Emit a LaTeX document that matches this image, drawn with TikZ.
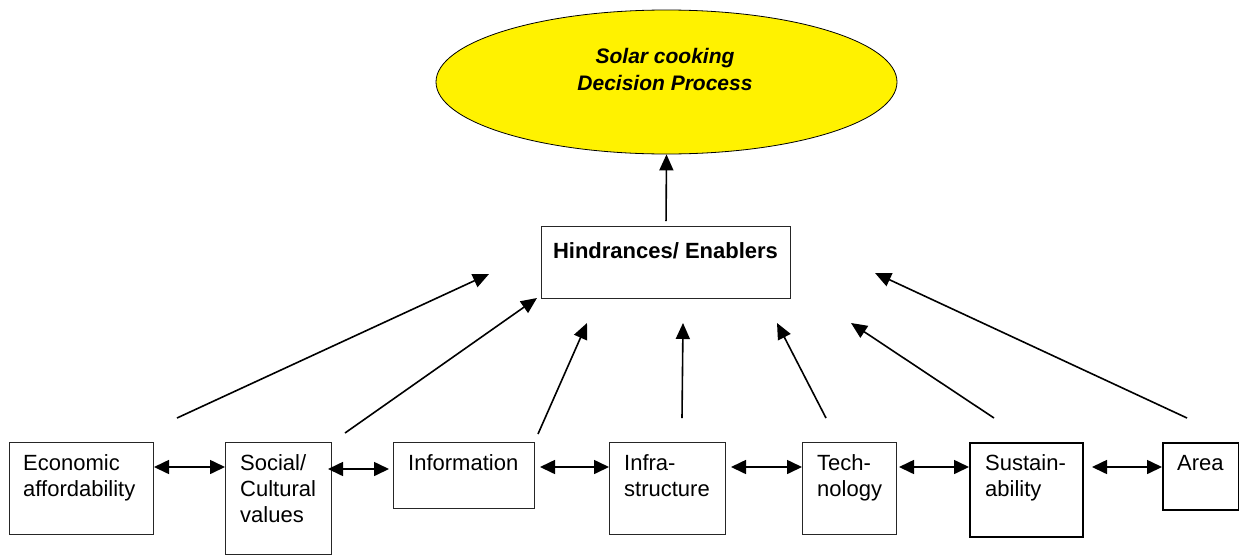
\documentclass[tikz,border=0pt]{standalone}
\usepackage{fontspec}
\setmainfont{Liberation Sans}
\usetikzlibrary{arrows.meta,shapes.geometric,calc}
\begin{document}
\begin{tikzpicture}[x=1pt,y=-1pt,
  box/.style={draw=black!85, line width=1pt, anchor=north west, inner sep=0pt},
  heavybox/.style={box, draw=black, line width=2pt},
  lbl/.style={anchor=base west, inner sep=0pt, align=left,
              font=\fontsize{22}{26}\selectfont},
  arr/.style={line width=1.6pt, -{Triangle[length=16pt,width=14pt]}},
  dbl/.style={line width=1.6pt, {Triangle[length=15pt,width=14pt]}-{Triangle[length=15pt,width=14pt]}}]
\useasboundingbox (0,0) rectangle (1239,555);

% goal
\node[ellipse, draw=black, line width=0.8pt, fill=yellow, inner sep=0pt,
      minimum width=461pt, minimum height=144pt] (goal) at (666.5,82) {};
\node[anchor=base, inner sep=0pt, align=center,
      font=\fontsize{21}{27}\selectfont\bfseries\itshape] (goaltxt) at (665,90)
      {Solar cooking\\ Decision Process};

% central box
\node[box, minimum width=249pt, minimum height=72pt] (hind) at (541,226) {};
\node[anchor=base, inner sep=0pt, font=\fontsize{22}{26}\selectfont\bfseries]
      (hindtxt) at (665.5,258) {Hindrances/ Enablers};

% factor boxes
\node[box, minimum width=144pt, minimum height=92pt]  (econ)   at (9,442)   {};
\node[box, minimum width=106pt, minimum height=112pt] (social) at (225,442) {};
\node[box, minimum width=141pt, minimum height=66pt]  (info)   at (393,442) {};
\node[box, minimum width=116pt, minimum height=92pt]  (infra)  at (609,442) {};
\node[box, minimum width=94pt,  minimum height=92pt]  (tech)   at (802,442) {};
\node[heavybox, minimum width=113pt, minimum height=94pt] (sust) at (969,442) {};
\node[heavybox, minimum width=76pt,  minimum height=67pt] (area) at (1162,442) {};

% labels: the base anchor sits on the last line
\node[lbl] (econtxt)   at ($(econ.north west)+(14,54.5)$)   {Economic\\affordability};
\node[lbl] (socialtxt) at ($(social.north west)+(15,80.5)$) {Social/\\Cultural\\values};
\node[lbl] (infotxt)   at ($(info.north west)+(15,28.5)$)   {Information};
\node[lbl] (infratxt)  at ($(infra.north west)+(15,54.5)$)  {Infra-\\structure};
\node[lbl] (techtxt)   at ($(tech.north west)+(15,54.5)$)   {Tech-\\nology};
\node[lbl] (susttxt)   at ($(sust.north west)+(16,54.5)$)   {Sustain-\\ability};
\node[lbl] (areatxt)   at ($(area.north west)+(15,28.5)$)   {Area};

% links between neighbouring factors
\coordinate (rowa) at (0,469);
\coordinate (rowb) at (0,467);
\draw[dbl] (econ.east |- rowb) -- (social.west |- rowb);
\draw[dbl, shorten <=-4pt, shorten >=4pt] (social.east |- rowa) -- (info.west |- rowa);
\draw[dbl, shorten <=5pt] (info.east |- rowb) -- (infra.west |- rowb);
\draw[dbl, shorten <=5pt] (infra.east |- rowb) -- (tech.west |- rowb);
\draw[dbl, shorten <=2pt] (tech.east |- rowb) -- (sust.west |- rowb);
\draw[dbl, shorten <=8pt] (sust.east |- rowb) -- (area.west |- rowb);

% influence arrows towards the central box
\coordinate (s1) at (177,418);  \coordinate (t1) at (489,274);
\coordinate (s2) at (345,433);  \coordinate (t2) at (537,298);
\coordinate (s3) at (538,434);  \coordinate (t3) at (587,323);
\coordinate (s4) at (682,418);  \coordinate (t4) at (683,323);
\coordinate (s5) at (826,418);  \coordinate (t5) at (777,323);
\coordinate (s6) at (994,418);  \coordinate (t6) at (851,323);
\coordinate (s7) at (1187,418); \coordinate (t7) at (875,273);
\foreach \i in {1,...,7} \draw[arr] (s\i) -- (t\i);

% central box feeds the decision
\draw[arr, shorten <=5pt] (hind.north) -- (goal.south);
\end{tikzpicture}
\end{document}
